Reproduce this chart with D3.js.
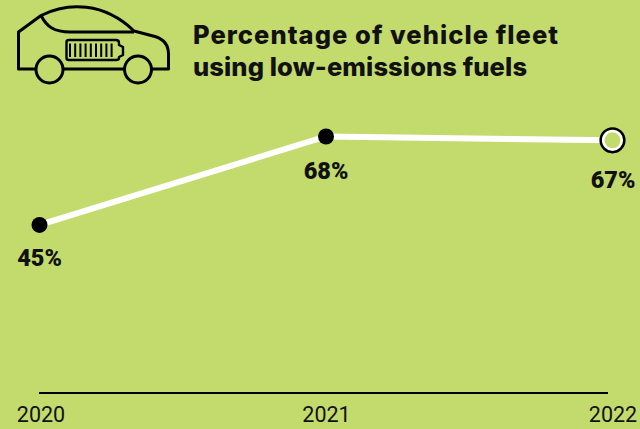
<!DOCTYPE html>
<html><head><meta charset="utf-8">
<script src="https://cdn.jsdelivr.net/npm/d3@7/dist/d3.min.js"></script>
<style>html,body{margin:0;padding:0;background:#c3db6d;overflow:hidden}svg{display:block}</style>
</head><body><svg id="c" width="640" height="429"></svg>
<script>
const years = ["2020","2021","2022"];
const values = [45,68,67];
const titleLines = ["Percentage of vehicle fleet","using low-emissions fuels"];
const svg = d3.select("#c");
const bg="#c3db6d", ink="#000", label="#111";
const x = d3.scalePoint().domain(years).range([39.5,612.5]);
const y = d3.scaleLinear().domain([0,68]).range([398,136.5]);
const data = years.map((d,i)=>({year:d,value:values[i]}));

// title
svg.append("g").attr("font-family","Inter, 'Open Sans', sans-serif").attr("font-weight",800)
  .attr("font-size",25.5).attr("fill",label)
  .selectAll("text").data(titleLines).join("text")
  .attr("x",193).attr("y",(d,i)=>44+i*32)
  .attr("textLength",(d,i)=>[365,334][i]).attr("lengthAdjust","spacing").text(d=>d);

// car icon
const car = svg.append("g").attr("fill","none").attr("stroke",ink).attr("stroke-width",3).attr("stroke-linejoin","round");
car.append("path").attr("d","M36 69H18.5V32L41 15.5C68 2 104 2 134 31L155 36.5C163 39 168.500 44 168.500 54V69H152M124 69H63");
car.append("path").attr("d","M41 15.5C47 27 54 32 70 32H134");
car.append("circle").attr("cx",49.5).attr("cy",69.5).attr("r",13.5);
car.append("circle").attr("cx",138).attr("cy",69.5).attr("r",13.5);
car.append("path").attr("d","M69 40H116C118 40 119 41 119 43V45L123 47V55L119 57V58C119 59.500 118 60 116 60H69C67 60 66.500 59 66.500 58V42C66.500 41 67 40 69 40Z").attr("stroke-width",2.4);
car.append("g").attr("stroke-width",2).selectAll("line").data(d3.range(70,114,5.2)).join("line")
  .attr("x1",d=>d).attr("x2",d=>d).attr("y1",43.5).attr("y2",57);

// axis
const ax = svg.append("g").attr("transform","translate(0,393)")
  .call(d3.axisBottom(x).tickSize(0).tickPadding(14));
ax.select(".domain").attr("stroke",ink).attr("stroke-width",2).attr("d","M39 0H608");
ax.selectAll("text").attr("font-family","Roboto, sans-serif").attr("font-size",21.5).attr("fill",label);
ax.selectAll(".tick text").attr("x",(d,i)=>[1,0,0][i]);

// line
svg.append("path").datum(data).attr("fill","none").attr("stroke","#fff").attr("stroke-width",6)
  .attr("d",d3.line().x(d=>x(d.year)).y(d=>y(d.value)));

// points
svg.selectAll(".pt").data(data.slice(0,2)).join("circle").attr("class","pt")
  .attr("cx",d=>x(d.year)).attr("cy",d=>y(d.value)).attr("r",8).attr("fill",ink);
const last = data[2];
[[11.8,ink,ink,2.6],[9.3,bg,"#fff",2.6]].forEach(([r,f,s,w])=>{
  svg.append("circle").attr("cx",x(last.year)).attr("cy",y(last.value)).attr("r",r)
    .attr("fill",f).attr("stroke",s).attr("stroke-width",w);
});

// labels
svg.selectAll(".lab").data(data).join("text").attr("class","lab")
  .attr("x",(d,i)=>x(d.year)+[0,0,0.5][i]).attr("y",(d,i)=>y(d.value)+[41,42.5,47.5][i])
  .attr("text-anchor","middle").attr("font-family","Roboto, sans-serif").attr("font-weight",900)
  .attr("font-size",23.5).attr("fill",label).text(d=>d.value+"%");
</script></body></html>
